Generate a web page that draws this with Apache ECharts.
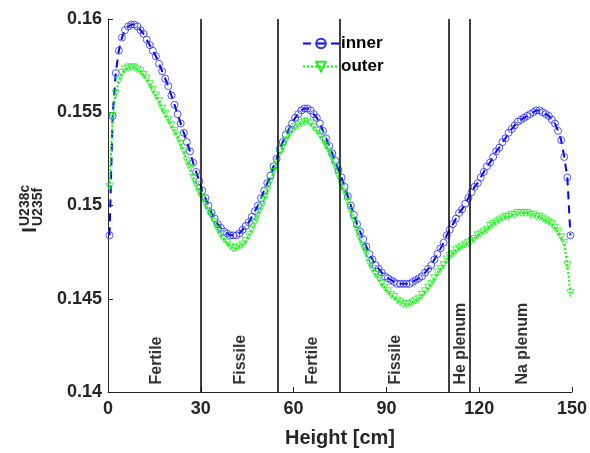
<!DOCTYPE html>
<html>
<head>
<meta charset="utf-8">
<script src="https://cdn.jsdelivr.net/npm/echarts@6/dist/echarts.min.js"></script>
<style>html,body{margin:0;padding:0;background:#fff;}#c{width:590px;height:453px;}</style>
</head>
<body>
<div id="c"></div>
<script>
// Heights of the nodes [cm] (uniform 1 cm mesh, node centres)
var heights = [];
for (var i = 0; i < 150; i++) heights.push(i + 0.5);

var inner = [
0.1484,0.1548,0.1571,0.1583,0.1590,0.1594,0.1596,0.1597,0.1597,0.1596,
0.1594,0.1592,0.1589,0.1586,0.1583,0.1580,0.1576,0.1572,0.1568,0.1564,
0.1559,0.1554,0.1549,0.1544,0.1539,0.1534,0.1529,0.1523,0.1518,0.1513,
0.1508,0.1504,0.1500,0.1496,0.1493,0.1490,0.1488,0.1486,0.1485,0.1484,
0.1484,0.1484,0.1485,0.1487,0.1489,0.1491,0.1494,0.1497,0.1500,0.1504,
0.1508,0.1512,0.1516,0.1521,0.1525,0.1530,0.1534,0.1538,0.1541,0.1544,
0.1547,0.1549,0.1551,0.1552,0.1552,0.1551,0.1549,0.1547,0.1544,0.1540,
0.1536,0.1532,0.1528,0.1524,0.1519,0.1515,0.1510,0.1505,0.1500,0.1495,
0.1490,0.1486,0.1482,0.1478,0.1474,0.1471,0.1468,0.1466,0.1464,0.1462,
0.1461,0.1460,0.1459,0.1458,0.1458,0.1458,0.1458,0.1458,0.1459,0.1460,
0.1461,0.1462,0.1464,0.1466,0.1468,0.1471,0.1474,0.1477,0.1480,0.1484,
0.1487,0.1490,0.1493,0.1496,0.1498,0.1501,0.1504,0.1507,0.1510,0.1512,
0.1515,0.1518,0.1521,0.1523,0.1526,0.1529,0.1531,0.1534,0.1536,0.1539,
0.1541,0.1543,0.1545,0.1546,0.1547,0.1548,0.1549,0.1550,0.1551,0.1551,
0.1550,0.1549,0.1548,0.1546,0.1544,0.1540,0.1535,0.1526,0.1515,0.1484
];

var outer = [
0.1510,0.1548,0.1560,0.1567,0.1571,0.1573,0.1574,0.1574,0.1574,0.1573,
0.1572,0.1570,0.1568,0.1565,0.1562,0.1559,0.1556,0.1552,0.1549,0.1546,
0.1543,0.1540,0.1537,0.1533,0.1529,0.1524,0.1520,0.1515,0.1511,0.1507,
0.1504,0.1501,0.1497,0.1494,0.1491,0.1487,0.1484,0.1482,0.1480,0.1478,
0.1477,0.1477,0.1478,0.1479,0.1481,0.1484,0.1487,0.1491,0.1495,0.1499,
0.1503,0.1508,0.1513,0.1518,0.1523,0.1528,0.1531,0.1535,0.1538,0.1540,
0.1542,0.1543,0.1544,0.1545,0.1545,0.1544,0.1542,0.1540,0.1538,0.1535,
0.1532,0.1529,0.1525,0.1521,0.1516,0.1511,0.1507,0.1502,0.1497,0.1492,
0.1487,0.1482,0.1478,0.1474,0.1469,0.1466,0.1463,0.1461,0.1458,0.1456,
0.1454,0.1452,0.1451,0.1449,0.1448,0.1447,0.1447,0.1447,0.1448,0.1449,
0.1450,0.1452,0.1454,0.1456,0.1458,0.1461,0.1464,0.1466,0.1468,0.1471,
0.1473,0.1474,0.1476,0.1477,0.1478,0.1479,0.1480,0.1481,0.1482,0.1484,
0.1485,0.1486,0.1487,0.1489,0.1490,0.1491,0.1492,0.1493,0.1494,0.1494,
0.1495,0.1495,0.1496,0.1496,0.1496,0.1496,0.1495,0.1495,0.1494,0.1494,
0.1493,0.1492,0.1491,0.1490,0.1488,0.1486,0.1483,0.1480,0.1468,0.1453
];

// Region boundaries [cm] and region labels
var boundaries = [30, 55, 75, 110, 117];
var regionNames = ['Fertile', 'Fissile', 'Fertile', 'Fissile', 'He plenum', 'Na plenum'];
var regionCentres = [15.8, 43, 66, 93, 114, 134];
var regionLabelBase = 0.1404;

var xTicks = {min: 0, max: 150, interval: 30};
var yTicks = {min: 0.14, max: 0.16, interval: 0.005};

var FONT = 'Liberation Sans, Arial, Helvetica, sans-serif';
var AX = '#262626';

function pairs(xs, ys) { return xs.map(function (x, k) { return [x, ys[k]]; }); }

var chart = echarts.init(document.getElementById('c'), null, {renderer: 'canvas'});
chart.setOption({
  animation: false,
  backgroundColor: '#fff',
  grid: {left: 108, right: 17, top: 19, bottom: 59, containLabel: false},
  legend: {
    data: ['inner', 'outer'],
    orient: 'vertical',
    left: 302, top: 35,
    itemWidth: 36, itemHeight: 12, itemGap: 6,
    textStyle: {fontFamily: FONT, fontWeight: 'bold', fontSize: 17, color: '#000', padding: [0, 0, 0, -3]},
    padding: 0
  },
  xAxis: {
    type: 'value', min: xTicks.min, max: xTicks.max, interval: xTicks.interval,
    name: 'Height [cm]', nameLocation: 'middle', nameGap: 36,
    nameTextStyle: {fontFamily: FONT, fontWeight: 'bold', fontSize: 20, color: AX},
    axisLine: {show: true, lineStyle: {color: AX, width: 1}},
    axisTick: {show: true, inside: true, length: 5, lineStyle: {color: AX}},
    axisLabel: {fontFamily: FONT, fontWeight: 'bold', fontSize: 18, color: AX, margin: 8},
    splitLine: {show: false}
  },
  yAxis: {
    type: 'value', min: yTicks.min, max: yTicks.max, interval: yTicks.interval,
    axisLine: {show: true, lineStyle: {color: AX, width: 1}},
    axisTick: {show: true, inside: true, length: 5, lineStyle: {color: AX}},
    axisLabel: {fontFamily: FONT, fontWeight: 'bold', fontSize: 18, color: AX, margin: 6},
    splitLine: {show: false}
  },
  graphic: [
    {type: 'text', x: 30, y: 230, rotation: Math.PI / 2,
      style: {text: 'I', font: 'bold 20px ' + FONT, fill: AX, align: 'center', verticalAlign: 'middle'}},
    {type: 'text', x: 25, y: 226, rotation: Math.PI / 2,
      style: {text: 'U238c', font: 'bold 14px ' + FONT, fill: AX, align: 'left', verticalAlign: 'middle'}},
    {type: 'text', x: 38.5, y: 226, rotation: Math.PI / 2,
      style: {text: 'U235f', font: 'bold 14px ' + FONT, fill: AX, align: 'left', verticalAlign: 'middle'}}
  ],
  series: [
    {
      name: 'regions', type: 'scatter', symbolSize: 0, silent: true,
      data: regionNames.map(function (n, k) { return {name: n, value: [regionCentres[k], regionLabelBase]}; }),
      label: {show: true, formatter: '{b}', rotate: 90, position: 'inside', align: 'left', verticalAlign: 'middle',
        fontFamily: FONT, fontWeight: 'bold', fontSize: 16, color: '#000'},
      markLine: {
        silent: true, symbol: 'none', animation: false,
        label: {show: false},
        lineStyle: {color: '#000', width: 1.5, type: 'solid'},
        data: boundaries.map(function (b) { return {xAxis: b}; })
      },
      z: 1
    },
    {
      name: 'inner', type: 'line', data: pairs(heights, inner),
      symbol: 'circle', symbolSize: 7, showAllSymbol: true,
      lineStyle: {color: '#0000ff', width: 2, type: [8, 6]},
      itemStyle: {color: 'rgba(0,0,0,0)', borderColor: '#2a2aff', borderWidth: 0.8},
      z: 3
    },
    {
      name: 'outer', type: 'line', data: pairs(heights, outer),
      symbol: 'path://M0,0 L10,0 L5,9 Z', symbolSize: 7, showAllSymbol: true,
      lineStyle: {color: '#00ff00', width: 2, type: [2, 2]},
      itemStyle: {color: 'rgba(0,0,0,0)', borderColor: '#22ee22', borderWidth: 0.8},
      z: 4
    }
  ]
});
</script>
</body>
</html>
